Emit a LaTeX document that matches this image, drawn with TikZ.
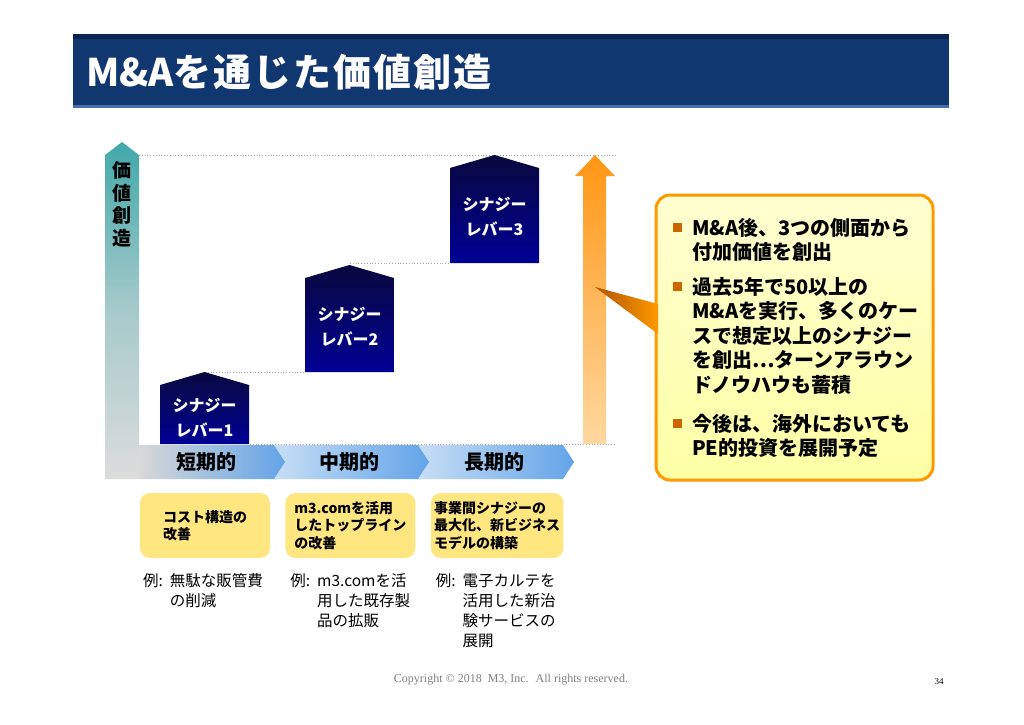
\documentclass[tikz,border=0pt]{standalone}
\usepackage{fontspec}
\usepackage{tikz}
\usetikzlibrary{positioning,shapes.geometric}
\newfontfamily\jpfont{Noto Sans CJK JP}
\newfontfamily\footfont{Liberation Serif}
\definecolor{titlenavy}{RGB}{17,55,113}
\definecolor{titledark}{RGB}{10,36,82}
\definecolor{titleline}{RGB}{70,110,175}
\definecolor{axisteal}{RGB}{66,168,170}
\definecolor{axisgray}{RGB}{220,220,220}
\definecolor{leverdark}{RGB}{8,8,62}
\definecolor{leverblue}{RGB}{0,0,150}
\definecolor{phasegray}{RGB}{216,216,216}
\definecolor{phaselight}{RGB}{200,222,246}
\definecolor{phaseblue}{RGB}{98,164,232}
\definecolor{goalyellow}{RGB}{255,230,128}
\definecolor{riseorange}{RGB}{255,150,20}
\definecolor{risepeach}{RGB}{255,216,160}
\definecolor{calloutorange}{RGB}{255,153,0}
\definecolor{calloutbrown}{RGB}{175,85,0}
\definecolor{calloutpale}{RGB}{255,255,210}
\definecolor{calloutfill}{RGB}{255,255,165}
\definecolor{bulletorange}{RGB}{204,102,0}
\tikzset{
 lever/.style={
 text=white,
 align=center,
 inner sep=0pt,
 font=\jpfont\bfseries\fontsize{16}{25}\selectfont
 },
 phase/.style={
 inner sep=0pt,
 font=\jpfont\bfseries\fontsize{20}{24}\selectfont
 },
 goalbox/.style={
 rectangle,
 rounded corners=10pt,
 fill=goalyellow,
 minimum width=130pt,
 minimum height=65pt,
 align=left,
 font=\jpfont\bfseries\fontsize{14}{17.5}\selectfont
 },
 example/.style={
 inner sep=0pt,
 font=\jpfont\fontsize{15.5}{20}\selectfont
 },
 item/.style={
 inner sep=0pt,
 align=left,
 font=\jpfont\bfseries\fontsize{20}{24.5}\selectfont
 },
 bullet/.style={rectangle, fill=bulletorange, minimum size=9pt, inner sep=0pt},
 guide/.style={draw=gray!70, dotted, line width=0.8pt}
}

\begin{document}
\begin{tikzpicture}[x=1pt,y=-1pt]
	\useasboundingbox (0,0) rectangle (1024,724);
	\fill[white] (0,0) rectangle (1024,724);

	\fill[titlenavy] (73,34) rectangle (949,108);
	\fill[titledark] (73,34) rectangle (949,39);
	\fill[titleline] (73,105) rectangle (949,108);
	\node[anchor=west, text=white, inner sep=0pt, font=\jpfont\bfseries\fontsize{38}{42}\selectfont] (title) at (86,72) {M\&Aを\kern2pt 通\kern2pt じ\kern2pt た\kern2pt 価\kern2pt 値\kern2pt 創\kern2pt 造};

	\draw[guide] (139,155) -- (616,155);
	\draw[guide] (350,263) -- (450,263);
	\draw[guide] (205,372) -- (305,372);
	\draw[guide] (250,444) -- (616,444);

	\shade[top color=axisteal, bottom color=axisgray, middle color=axisteal!35!axisgray] (105,479) -- (105,155) -- (122,142) -- (139,155) -- (139,479) -- cycle;
	\node[align=center, inner sep=0pt, font=\jpfont\bfseries\fontsize{19}{22.5}\selectfont] (axis) at (122,204) {価\\値\\創\\造};

	\foreach \l/\b/\s/\t/\n in {160/444/385/418/1, 305/372/278/327/2, 450/263/168/217/3} {
		\shade[top color=leverdark, bottom color=leverblue] (\l,\b) -- (\l,\s) -- (\l+44.5,\s-13) -- (\l+89,\s) -- (\l+89,\b) -- cycle;
		\node[lever] (lever\n) at (\l+44.5,\t) {シナジー\\レバー\n};
	}

	\shade[top color=riseorange, bottom color=risepeach] (583,444) -- (583,176) -- (575,176) -- (595,155) -- (615,176) -- (606,176) -- (606,444) -- cycle;

	\foreach \a/\b/\n/\c/\lbl/\k in {418/563/11/phaselight/長期的/3, 274/418/11/phaselight/中期的/2, 139/274/0/phasegray/短期的/1} {
		\shade[left color=\c, right color=phaseblue] (\a,445) -- (\b,445) -- (\b+11,462) -- (\b,479) -- (\a,479) -- (\a+\n,462) -- cycle;
		\node[phase] (phase\k) at (\a/2+\b/2+\n/3,462) {\lbl};
	}

	\node[goalbox] (goal1) at (205,525.5) {コスト構造の\\改善};
	\node[goalbox, right=15pt of goal1] (goal2) {m3.comを活用\\したトップライン\\の改善};
	\node[goalbox, right=15pt of goal2] (goal3) {事業間シナジーの\\最大化、新ビジネス\\モデルの構築};

	\node[example, below right=14pt and 3pt of goal1.south west] (ex1) {\begin{tabular}{@{}l@{\hspace{7pt}}l@{}}例:&無駄な販管費\\&の削減\end{tabular}};
	\node[example, below right=14pt and 5pt of goal2.south west] (ex2) {\begin{tabular}{@{}l@{\hspace{7pt}}l@{}}例:&m3.comを活\\&用した既存製\\&品の拡販\end{tabular}};
	\node[example, below right=14pt and 5pt of goal3.south west] (ex3) {\begin{tabular}{@{}l@{\hspace{7pt}}l@{}}例:&電子カルテを\\&活用した新治\\&験サービスの\\&展開\end{tabular}};

	\shade[top color=calloutpale, bottom color=calloutfill, rounded corners=14pt] (656,195) rectangle (933,480);
	\draw[calloutorange, line width=3pt, rounded corners=14pt] (656,195) rectangle (933,480);
	\shade[left color=calloutbrown, right color=calloutorange] (658,304) -- (595,287) -- (658,334) -- cycle;

	\node[item, anchor=north west] (item1) at (692,218) {M\&A後、3つの側面から\\付加価値を創出};
	\node[item, anchor=north west] (item2) at (692,277) {過去5年で50以上の\\M\&Aを実行、多くのケー\\スで想定以上のシナジー\\を創出…ターンアラウン\\ドノウハウも蓄積};
	\node[item, anchor=north west] (item3) at (692,414) {今後は、海外においても\\PE的投資を展開予定};
	\foreach \k in {1,2,3} {
		\node[bullet] (bul\k) at ([xshift=-15pt,yshift=-9pt]item\k.north west) {};
	}

	\node[text=gray, font=\footfont\fontsize{12}{14}\selectfont] (copy) at (511,680) {Copyright © 2018~ M3, Inc.~ All rights reserved.};
	\node[font=\footfont\fontsize{9}{11}\selectfont] (page) at (939,682) {34};
\end{tikzpicture}
\end{document}
